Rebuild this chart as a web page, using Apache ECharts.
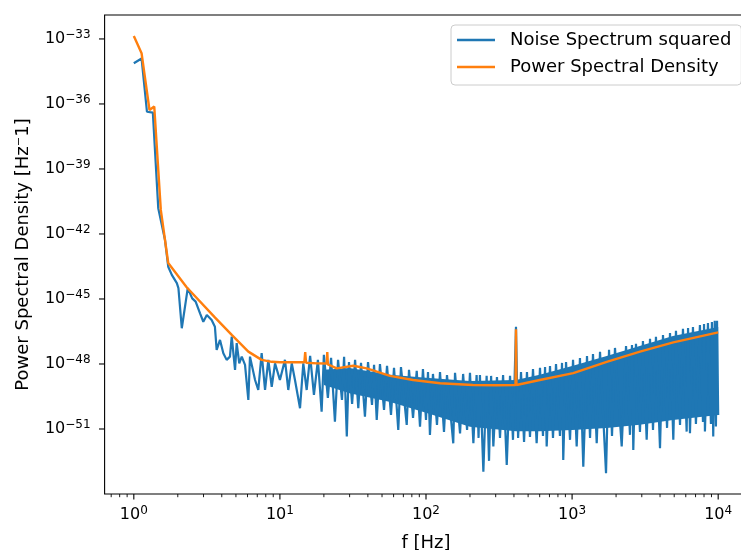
<!DOCTYPE html>
<html><head><meta charset="utf-8">
<script src="https://cdn.jsdelivr.net/npm/echarts@6/dist/echarts.min.js"></script>
<style>html,body{margin:0;padding:0;background:#fff}#c{width:741px;height:550px}</style>
</head><body><div id="c"></div>
<script>
// Noise spectrum squared: [frequency Hz, log10(value)]
const noise = [
[1.0,-34.12],[1.13,-33.9],[1.23,-36.36],[1.35,-36.40],[1.47,-40.81],[1.635,-42.28],[1.72,-43.51],[1.82,-43.89],[1.97,-44.27],[2.02,-44.50],[2.13,-46.35],[2.34,-44.50],[2.51,-44.97],[2.65,-45.12],[2.84,-45.66],[2.99,-46.05],[3.16,-45.74],[3.41,-45.97],[3.59,-46.28],[3.69,-47.35],[3.89,-46.89],[4.10,-47.50],[4.32,-47.81],[4.55,-47.66],[4.68,-46.74],[4.93,-48.27],[5.06,-47.04],[5.27,-47.97],[5.48,-47.66],[5.77,-48.04],[6.08,-49.66],[6.24,-47.66],[6.76,-48.74],[7.11,-49.20],[7.50,-47.50],[7.91,-49.20],[8.33,-47.81],[8.79,-49.05],[9.26,-47.97],[10.0,-48.74],[10.83,-47.81],[11.41,-49.20],[12.05,-47.97],[12.68,-48.74],[13.73,-50.04],[14.46,-47.97],[15.25,-49.20],
[16.1,-47.63],[17.1,-49.43],[18.2,-47.81],[19.3,-50.20],[20.0,-47.58],[21.3,-49.57],[22.4,-47.72],[23.8,-50.66],[25.0,-47.81],[26.6,-49.66],[27.5,-47.67],[28.7,-51.35],[29.7,-47.91],[31.2,-49.84],[32.7,-47.81],[34.4,-50.04],[35.9,-47.95],[38.2,-50.43],[40.1,-47.91],[42.7,-49.89],[44.1,-48.04],[46.0,-50.58],[48.4,-48.00],[51.6,-50.12],[54.1,-48.09],[57.6,-50.35],[60.4,-48.18],[64.6,-51.04],[67.4,-48.14],[73.8,-50.81],[76.5,-48.27],[81.5,-50.49],[86.4,-48.32],[91.0,-50.89],[95.3,-48.23],[100,-50.58],[103.2,-48.37],[106.4,-51.27],[111.6,-48.46],[118.9,-50.81],[124.7,-48.37],[132.8,-51.14],[139.2,-48.51],[153.7,-51.66],[158,-48.41],[171,-51.20],[179.5,-48.46],[191,-51.04],[200,-48.41],[211,-51.66],[222,-48.51],[229,-51.41],[234,-48.51],[247,-52.97],[260,-48.55],[270,-52.47],[279,-48.55],[289,-51.81],[306,-48.60],[321,-51.41],[337,-48.51],[357,-52.66],[376,-48.55],[394,-51.50],[413,-46.28],[427,-51.41],[447,-48.37],[469,-51.60],[491,-48.37],[515,-51.37],[540,-48.23],[572,-51.66],[603,-48.18],[632,-51.32],[653,-48.14],[670,-51.81],[706,-48.09],[740,-51.41],[776,-48.00],[826,-51.32],[853,-47.95],[870,-52.43],[909,-47.91],[968,-51.50],[1015,-47.81],[1075,-51.81],[1132,-47.72],[1193,-52.74],[1265,-47.63],[1327,-51.41],[1390,-47.54],[1474,-51.66],[1553,-47.44],[1707,-53.04],[1790,-47.35],[1876,-51.32],[1966,-47.26],[2186,-51.81],[2340,-47.17],[2490,-51.27],[2570,-47.12],[2624,-51.97],[2737,-47.07],[2915,-51.14],[3055,-46.94],[3240,-51.50],[3415,-46.84],[3580,-51.04],[3750,-46.75],[3997,-51.89],[4190,-46.66],[4467,-50.95],[4680,-46.57],[4930,-51.50],[5140,-46.47],[5480,-50.81],[5740,-46.38],[6085,-51.12],[6220,-46.34],[6410,-51.20],[6720,-46.29],[7040,-50.77],[7500,-46.20],[7870,-50.67],[8000,-46.15],[8115,-51.12],[8510,-46.11],[8920,-50.77],[9060,-46.06],[9250,-51.35],[9470,-46.01],[9650,-50.89],[9820,-46.00],[10000,-50.35]
];
// Dense body of the noise trace: frequency, log10 upper edge, log10 lower edge
const bandF     = [20, 30, 57, 100, 200, 413, 600, 1000, 1725, 2900, 4900, 10000];
const bandUpper = [-48.27, -48.18, -48.50, -48.64, -48.78, -48.74, -48.50, -48.09, -47.63, -47.17, -46.71, -46.29];
const bandLower = [-48.97, -49.35, -49.75, -50.25, -50.90, -51.10, -51.10, -51.05, -50.95, -50.81, -50.58, -50.35];
// Power spectral density: [frequency Hz, log10(value)]
const psd = [
[1.0,-32.86],[1.13,-33.66],[1.28,-36.28],[1.38,-36.12],[1.53,-40.89],[1.72,-43.34],[2.30,-44.46],[3.6,-45.86],[4.68,-46.66],[6.08,-47.43],[7.5,-47.81],[8.8,-47.90],[10,-47.92],[14.7,-47.92],[14.9,-47.45],[15.1,-47.94],[18,-47.97],[20.9,-47.98],[21.1,-47.45],[21.3,-48.02],[24.5,-48.20],[31.8,-48.08],[39.3,-48.20],[56.7,-48.55],[81.7,-48.74],[125,-48.89],[209,-48.97],[300,-48.98],[410,-48.97],[413,-46.40],[416,-48.97],[601,-48.74],[1019,-48.42],[1725,-47.90],[2917,-47.43],[4930,-47.00],[10000,-46.54]
];
const xTickExp = [0, 1, 2, 3, 4];
const yTickExp = [-51, -48, -45, -42, -39, -36, -33];

const BLUE = '#1f77b4', ORANGE = '#ff7f0e';
const xMin = Math.pow(10, -0.2), xMax = Math.pow(10, 4.2);
// y axis is the decade exponent (log10 of the PSD value), drawn on a linear scale
const yMin = -54, yMax = -31.895;
const fmtExp = e => (e < 0 ? '\u2212' + (-e) : String(e));
const minorX = [];
for (let k = -1; k <= 4; k++) for (let m = 2; m <= 9; m++) { const v = m * Math.pow(10, k); if (v > xMin && v < xMax) minorX.push(v); }

const labelRich = {
  b: { fontSize: 16, lineHeight: 20, color: '#000', fontFamily: 'DejaVu Sans' },
  s: { fontSize: 12, lineHeight: 10, verticalAlign: 'top', color: '#000', fontFamily: 'DejaVu Sans' }
};
const sup = e => '{b|10}{s|' + fmtExp(e) + '}';

const chart = echarts.init(document.getElementById('c'), null, { renderer: 'canvas' });
chart.setOption({
  animation: false,
  textStyle: { fontFamily: 'DejaVu Sans' },
  grid: { left: 104.6, right: -6.4, top: 15, bottom: 56, outerBoundsMode: 'none', containLabel: false, show: true, borderColor: '#000', borderWidth: 1.1, backgroundColor: 'transparent' },
  legend: {
    data: ['Noise Spectrum squared', 'Power Spectral Density'],
    orient: 'vertical', left: 451, top: 25, icon: 'rect', itemWidth: 38, itemHeight: 2.5, itemGap: 9,
    padding: [6, 10, 9, 6], backgroundColor: 'rgba(255,255,255,0.8)', borderColor: '#cccccc', borderWidth: 1, borderRadius: 4,
    selectedMode: false,
    textStyle: { fontSize: 18, color: '#000', lineHeight: 18, padding: [0, 0, 0, 10] }
  },
  xAxis: {
    type: 'log', logBase: 10, min: xMin, max: xMax, splitNumber: 5,
    axisLine: { show: false }, axisTick: { show: false }, splitLine: { show: false },
    axisLabel: {
      margin: 11, rich: labelRich,
      formatter: v => { const l = Math.log10(v), r = Math.round(l); return (Math.abs(l - r) < 0.01 && xTickExp.indexOf(r) >= 0) ? sup(r) : ''; }
    },
    name: 'f [Hz]', nameLocation: 'middle', nameGap: 40,
    nameTextStyle: { fontSize: 18, color: '#000' }
  },
  yAxis: {
    type: 'value', min: yMin, max: yMax, interval: 3,
    axisLine: { show: false }, axisTick: { show: false }, splitLine: { show: false },
    axisLabel: {
      margin: 14, rich: labelRich,
      formatter: v => { const r = Math.round(v); return (Math.abs(v - r) < 0.01 && yTickExp.indexOf(r) >= 0) ? sup(r) : ''; }
    },
    name: 'Power Spectral Density [Hz\u207B1]', nameLocation: 'middle', nameRotate: 90, nameGap: 72,
    nameTextStyle: { fontSize: 18, color: '#000' }
  },
  series: [
    {
      type: 'custom', name: 'band', silent: true, z: 2, data: [[100, -49]],
      renderItem: (params, api) => {
        const pts = [];
        for (let i = 0; i < bandF.length; i++) pts.push(api.coord([bandF[i], bandUpper[i]]));
        for (let i = bandF.length - 1; i >= 0; i--) pts.push(api.coord([bandF[i], bandLower[i]]));
        return { type: 'polygon', shape: { points: pts }, style: { fill: BLUE } };
      }
    },
    {
      type: 'line', name: 'Noise Spectrum squared', data: noise, showSymbol: false, symbol: 'none',
      lineStyle: { width: 2.2, color: BLUE }, itemStyle: { color: BLUE }, z: 3
    },
    {
      type: 'line', name: 'Power Spectral Density', data: psd, showSymbol: false, symbol: 'none',
      lineStyle: { width: 2.4, color: ORANGE }, itemStyle: { color: ORANGE }, z: 4
    },
    {
      type: 'custom', name: 'ticks', silent: true, clip: false, z: 6, data: [[100, -49]],
      renderItem: (params, api) => {
        const ch = [];
        const yb = api.coord([1, yMin])[1];
        const xl = api.coord([xMin, -40])[0];
        const st = w => ({ stroke: '#000', lineWidth: w });
        xTickExp.forEach(e => { const x = api.coord([Math.pow(10, e), yMin])[0]; ch.push({ type: 'line', shape: { x1: x, y1: yb, x2: x, y2: yb + 5.6 }, style: st(1.1) }); });
        minorX.forEach(v => { const x = api.coord([v, yMin])[0]; ch.push({ type: 'line', shape: { x1: x, y1: yb, x2: x, y2: yb + 3.2 }, style: st(0.9) }); });
        yTickExp.forEach(e => { const y = api.coord([xMin, e])[1]; ch.push({ type: 'line', shape: { x1: xl, y1: y, x2: xl - 5.6, y2: y }, style: st(1.1) }); });
        return { type: 'group', children: ch };
      }
    }
  ]
});
</script>
</body></html>
